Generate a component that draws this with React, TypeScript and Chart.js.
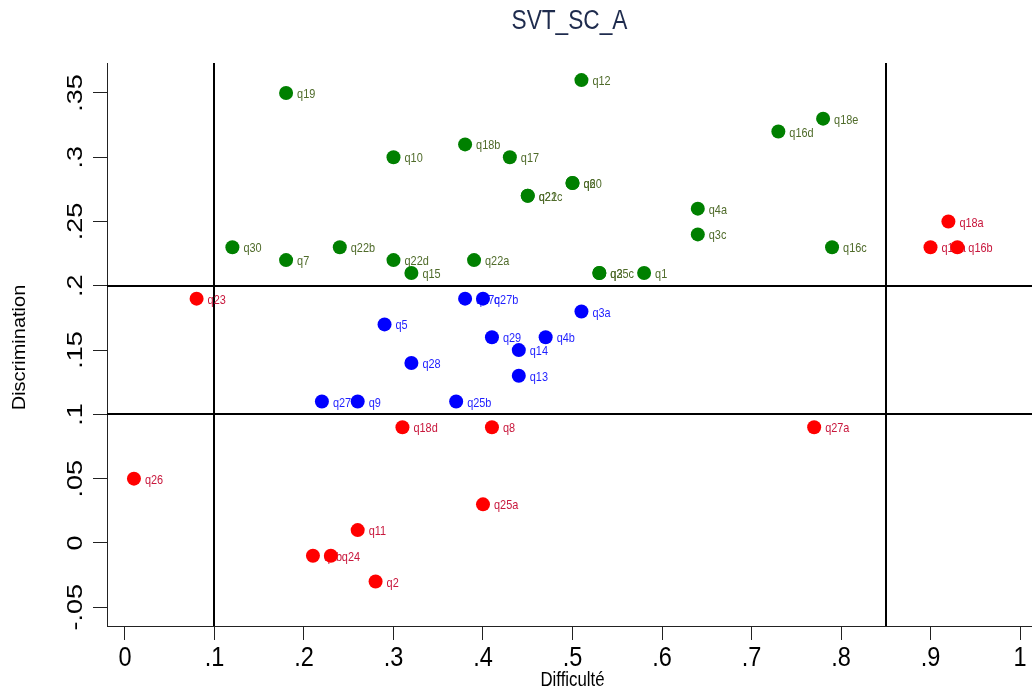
import React, { useEffect, useRef } from "react";
import { Chart, registerables } from "chart.js";

Chart.register(...registerables);

const chartTitle = "SVT_SC_A";
const xTitle = "Difficulté";
const yTitle = "Discrimination";

const greenLabels = ["q19", "q12", "q10", "q18b", "q17", "q16d", "q18e", "q20", "q6", "q21", "q22c", "q4a", "q3c", "q16c", "q30", "q7", "q22b", "q22d", "q15", "q22a", "q25c", "q3", "q1"];
const greenX = [0.18, 0.51, 0.30, 0.38, 0.43, 0.73, 0.78, 0.50, 0.50, 0.45, 0.45, 0.64, 0.64, 0.79, 0.12, 0.18, 0.24, 0.30, 0.32, 0.39, 0.53, 0.53, 0.58];
const greenY = [0.35, 0.36, 0.30, 0.31, 0.30, 0.32, 0.33, 0.28, 0.28, 0.27, 0.27, 0.26, 0.24, 0.23, 0.23, 0.22, 0.23, 0.22, 0.21, 0.22, 0.21, 0.21, 0.21];

const blueLabels = ["q27c", "q27b", "q3a", "q5", "q29", "q4b", "q14", "q28", "q13", "q27", "q9", "q25b"];
const blueX = [0.38, 0.40, 0.51, 0.29, 0.41, 0.47, 0.44, 0.32, 0.44, 0.22, 0.26, 0.37];
const blueY = [0.19, 0.19, 0.18, 0.17, 0.16, 0.16, 0.15, 0.14, 0.13, 0.11, 0.11, 0.11];

const redLabels = ["q18a", "q16a", "q16b", "q23", "q18d", "q8", "q27a", "q26", "q25a", "q11", "q3b", "q24", "q2"];
const redX = [0.92, 0.90, 0.93, 0.08, 0.31, 0.41, 0.77, 0.01, 0.40, 0.26, 0.21, 0.23, 0.28];
const redY = [0.25, 0.23, 0.23, 0.19, 0.09, 0.09, 0.09, 0.05, 0.03, 0.01, -0.01, -0.01, -0.03];

const xRefLines = [0.1, 0.85];
const yRefLines = [0.1, 0.2];

const xMin = -0.0201;
const xMax = 1.0134;
const yMin = -0.0646;
const yMax = 0.3733;

const FONT = "'Liberation Sans', Arial, sans-serif";
const SQUEEZE = 0.84;

function fmt(v: number): string {
  const r = Math.round(v * 100) / 100;
  if (r === 0) return "0";
  let s = String(r);
  s = s.replace(/^0\./, ".").replace(/^-0\./, "-.");
  return s;
}

function drawText(
  ctx: CanvasRenderingContext2D,
  text: string,
  x: number,
  y: number,
  size: number,
  color: string,
  align: CanvasTextAlign,
  rotate = 0,
  squeeze = SQUEEZE
) {
  ctx.save();
  ctx.translate(x, y);
  if (rotate) ctx.rotate(rotate);
  ctx.scale(rotate ? 1 : squeeze, rotate ? squeeze : 1);
  ctx.font = `${size}px ${FONT}`;
  ctx.fillStyle = color;
  ctx.textAlign = align;
  ctx.textBaseline = "middle";
  ctx.fillText(text, 0, 0);
  ctx.restore();
}

const groups = [
  { labels: greenLabels, xs: greenX, ys: greenY, color: "#008000", textColor: "#4f6b2a" },
  { labels: blueLabels, xs: blueX, ys: blueY, color: "#0000ff", textColor: "#1f1fff" },
  { labels: redLabels, xs: redX, ys: redY, color: "#ff0000", textColor: "#c8173c" },
];

const decorPlugin = {
  id: "decor",
  beforeDatasetsDraw(chart: any) {
    const ctx = chart.ctx as CanvasRenderingContext2D;
    const xs = chart.scales.x;
    const ys = chart.scales.y;
    const area = chart.chartArea;
    ctx.save();
    ctx.strokeStyle = "#000";
    ctx.lineWidth = 2;
    xRefLines.forEach((v) => {
      const px = Math.round(xs.getPixelForValue(v));
      ctx.beginPath();
      ctx.moveTo(px, area.top);
      ctx.lineTo(px, area.bottom);
      ctx.stroke();
    });
    yRefLines.forEach((v) => {
      const py = Math.round(ys.getPixelForValue(v));
      ctx.beginPath();
      ctx.moveTo(area.left, py);
      ctx.lineTo(chart.width, py);
      ctx.stroke();
    });
    ctx.restore();
    // point labels (under markers)
    groups.forEach((g) => {
      g.labels.forEach((lab, i) => {
        const px = xs.getPixelForValue(g.xs[i]);
        const py = ys.getPixelForValue(g.ys[i]);
        drawText(ctx, lab, px + 11, py + 1.5, 13, g.textColor, "left");
      });
    });
  },
  afterDraw(chart: any) {
    const ctx = chart.ctx as CanvasRenderingContext2D;
    const xs = chart.scales.x;
    const ys = chart.scales.y;
    const area = chart.chartArea;
    // title
    drawText(ctx, chartTitle, (area.left + area.right) / 2, 22, 27, "#1e2b4d", "center");
    // x tick labels
    xs.ticks.forEach((t: any) => {
      const px = xs.getPixelForValue(t.value);
      drawText(ctx, fmt(t.value), px, 658, 28, "#000", "center");
    });
    // y tick labels
    ys.ticks.forEach((t: any) => {
      const py = ys.getPixelForValue(t.value);
      drawText(ctx, fmt(t.value), 76, py, 27, "#000", "center", -Math.PI / 2);
    });
    // axis titles
    drawText(ctx, xTitle, (area.left + area.right) / 2 + 3, 680, 20, "#000", "center");
    drawText(ctx, yTitle, 20, (area.top + area.bottom) / 2 + 3, 20, "#000", "center", -Math.PI / 2, 0.9);
  },
};

function makeDataset(g: (typeof groups)[number]) {
  return {
    data: g.xs.map((x, i) => ({ x, y: g.ys[i] })),
    backgroundColor: g.color,
    borderColor: g.color,
    pointRadius: 7,
    pointHoverRadius: 7,
    pointBorderWidth: 0,
  };
}

export default function App() {
  const ref = useRef<HTMLCanvasElement | null>(null);
  useEffect(() => {
    if (!ref.current) return;
    const chart = new Chart(ref.current, {
      type: "scatter",
      data: { datasets: groups.map(makeDataset) },
      options: {
        animation: false,
        responsive: true,
        maintainAspectRatio: false,
        layout: { autoPadding: false, padding: { top: 63, right: 0, left: 0, bottom: 0 } },
        plugins: { legend: { display: false }, title: { display: false }, tooltip: { enabled: false } },
        events: [],
        scales: {
          x: {
            type: "linear",
            min: xMin,
            max: xMax,
            afterFit: (s: any) => {
              s.height = 67;
            },
            ticks: { display: false, stepSize: 0.1, includeBounds: false },
            grid: { display: true, drawOnChartArea: false, drawTicks: true, tickLength: 14, tickColor: "#222", tickWidth: 1 },
            border: { display: true, color: "#222", width: 1 },
          },
          y: {
            type: "linear",
            min: yMin,
            max: yMax,
            afterFit: (s: any) => {
              s.width = 107;
            },
            ticks: { display: false, stepSize: 0.05, includeBounds: false },
            grid: { display: true, drawOnChartArea: false, drawTicks: true, tickLength: 14, tickColor: "#222", tickWidth: 1 },
            border: { display: true, color: "#222", width: 1 },
          },
        },
      },
      plugins: [decorPlugin],
    });
    return () => chart.destroy();
  }, []);
  return (
    <div style={{ position: "absolute", left: 0, top: 0, width: 1032, height: 693, background: "#fff" }}>
      <canvas ref={ref} />
    </div>
  );
}
